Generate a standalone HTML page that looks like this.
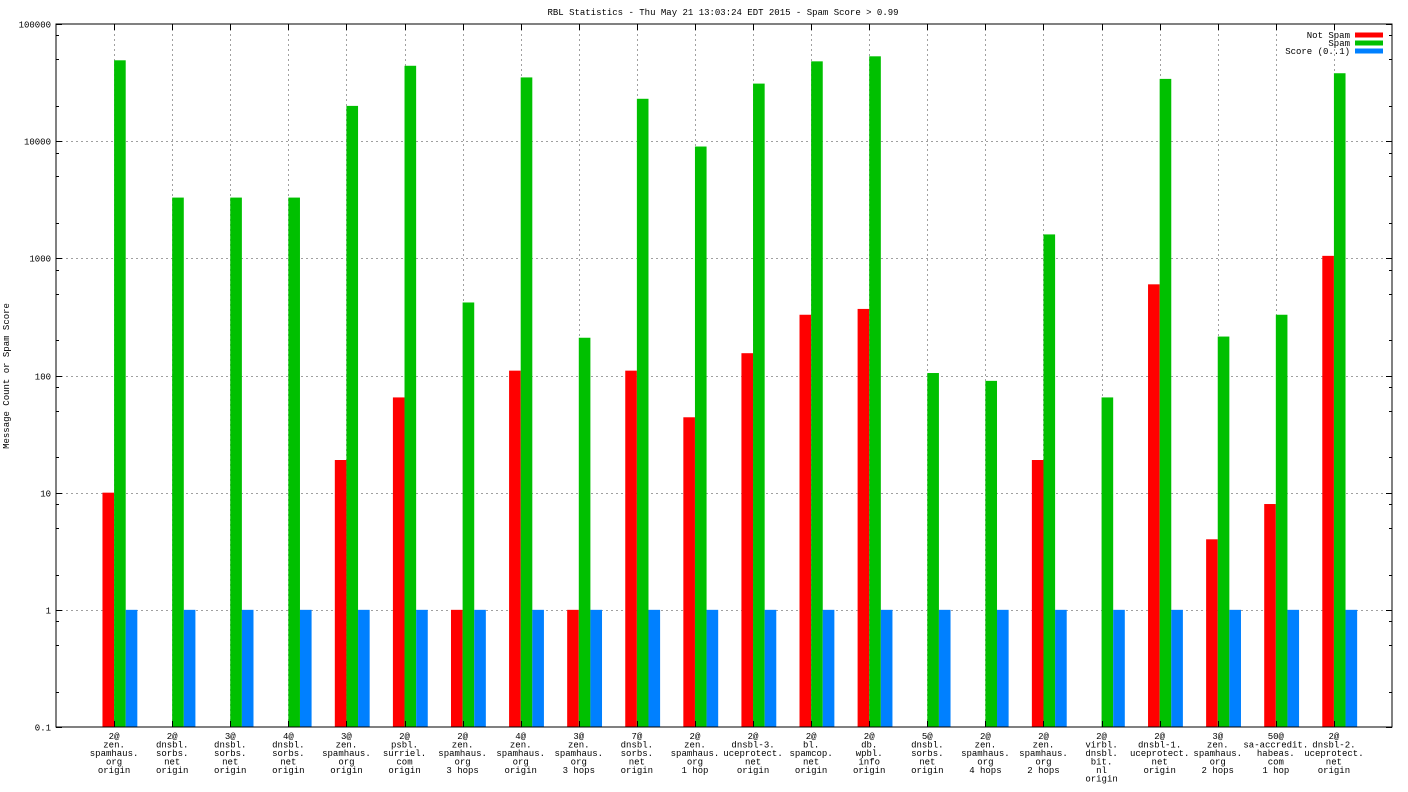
<!DOCTYPE html>
<html><head><meta charset="utf-8">
<style>
html,body{margin:0;padding:0;background:#fff;}
svg{display:block;}
text{font-family:"Liberation Mono","DejaVu Sans Mono",monospace;font-size:9px;fill:#000;}
</style></head>
<body>
<svg id="chart" width="1408" height="792" xmlns="http://www.w3.org/2000/svg">
<text x="723" y="15" text-anchor="middle">RBL Statistics - Thu May 21 13:03:24 EDT 2015 - Spam Score &gt; 0.99</text>
<text transform="translate(9,376) rotate(-90)" text-anchor="middle">Message Count or Spam Score</text>
<g id="grid"></g>
<g id="bars"></g>
<rect x="56" y="24" width="1336" height="703" fill="none" stroke="#000" stroke-width="1"/>
<g id="ticks"></g>
<g id="xlabels"></g>
<g id="legend"></g>
</svg>
<script>
const categories = [
 ["2@","zen.","spamhaus.","org","origin"],
 ["2@","dnsbl.","sorbs.","net","origin"],
 ["3@","dnsbl.","sorbs.","net","origin"],
 ["4@","dnsbl.","sorbs.","net","origin"],
 ["3@","zen.","spamhaus.","org","origin"],
 ["2@","psbl.","surriel.","com","origin"],
 ["2@","zen.","spamhaus.","org","3 hops"],
 ["4@","zen.","spamhaus.","org","origin"],
 ["3@","zen.","spamhaus.","org","3 hops"],
 ["7@","dnsbl.","sorbs.","net","origin"],
 ["2@","zen.","spamhaus.","org","1 hop"],
 ["2@","dnsbl-3.","uceprotect.","net","origin"],
 ["2@","bl.","spamcop.","net","origin"],
 ["2@","db.","wpbl.","info","origin"],
 ["5@","dnsbl.","sorbs.","net","origin"],
 ["2@","zen.","spamhaus.","org","4 hops"],
 ["2@","zen.","spamhaus.","org","2 hops"],
 ["2@","virbl.","dnsbl.","bit.","nl","origin"],
 ["2@","dnsbl-1.","uceprotect.","net","origin"],
 ["3@","zen.","spamhaus.","org","2 hops"],
 ["50@","sa-accredit.","habeas.","com","1 hop"],
 ["2@","dnsbl-2.","uceprotect.","net","origin"]
];
const notSpam = [10,0,0,0,19,65,1,110,1,110,44,155,330,370,0,0,19,0,600,4,8,1050];
const spam = [49000,3300,3300,3300,20000,44000,420,35000,210,23000,9000,31000,48000,53000,105,90,1600,65,34000,215,330,38000];
const score = [1,1,1,1,1,1,1,1,1,1,1,1,1,1,1,1,1,1,1,1,1,1];
const yTickLabels = ["0.1","1","10","100","1000","10000","100000"];
const yTickValues = [0.1,1,10,100,1000,10000,100000];

const NS="http://www.w3.org/2000/svg";
const L=56,R=1392,T=24,B=727;
const xMin=-1,xMax=22,yMinLog=-1,yMaxLog=5;
function xs(v){return L+(v-xMin)/(xMax-xMin)*(R-L);}
function ys(v){return B-(Math.log10(v)-yMinLog)/(yMaxLog-yMinLog)*(B-T);}
function mk(tag,attrs,parent){const e=document.createElementNS(NS,tag);for(const k in attrs)e.setAttribute(k,attrs[k]);parent.appendChild(e);return e;}
const grid=document.getElementById('grid'),bars=document.getElementById('bars'),ticks=document.getElementById('ticks'),xl=document.getElementById('xlabels'),lg=document.getElementById('legend');

yTickValues.forEach((v,i)=>{
  const y=Math.round(ys(v))+0.5;
  if(i>0&&i<yTickValues.length-1){
    const g=mk('line',{x1:L,x2:R,y1:y,y2:y,stroke:'#a0a0a0','stroke-dasharray':'2,3'},grid);
    
    
  }
  mk('line',{x1:L,x2:L+6,y1:y,y2:y,stroke:'#000'},ticks);
  mk('line',{x1:R-6,x2:R,y1:y,y2:y,stroke:'#000'},ticks);
  const t=mk('text',{x:L-5,y:y+3,'text-anchor':'end'},ticks);
  t.textContent=yTickLabels[i];
  
  
  if(i<yTickValues.length-1){
    [2,5,8].forEach(m=>{const yy=Math.round(ys(v*m))+0.5;
      mk('line',{x1:L,x2:L+3,y1:yy,y2:yy,stroke:'#000'},ticks);
      mk('line',{x1:R-3,x2:R,y1:yy,y2:yy,stroke:'#000'},ticks);});
  }
});

const bw=0.2;
categories.forEach((c,i)=>{
  const x=Math.round(xs(i))+0.5;
  const g=mk('line',{x1:x,x2:x,y1:T,y2:B,stroke:'#a0a0a0','stroke-dasharray':'2,3'},grid);
  
  
  mk('line',{x1:x,x2:x,y1:B-6,y2:B,stroke:'#000'},ticks);
  mk('line',{x1:x,x2:x,y1:T,y2:T+6,stroke:'#000'},ticks);
  const series=[[notSpam[i],'#ff0000','bar-not-spam',-bw],[spam[i],'#00c000','bar-spam',0],[score[i],'#0080ff','bar-score',bw]];
  series.forEach(([v,col,name,off])=>{
    if(!(v>0))return;
    const x0=xs(i+off),x1=xs(i+off+bw),y=Math.max(T,ys(v));
    const r=mk('rect',{x:x0,y:y,width:x1-x0,height:B-y,fill:col},bars);
    
    
  });
  const t=mk('text',{'text-anchor':'middle'},xl);
  
  
  c.forEach((line,j)=>{const s=mk('tspan',{x:xs(i),y:739+j*8.5},t);s.textContent=line;});
});

[["Not Spam","#ff0000"],["Spam","#00c000"],["Score (0..1)","#0080ff"]].forEach(([lab,col],j)=>{
  const y=35+j*8;
  const t=mk('text',{x:1350,y:y+3,'text-anchor':'end'},lg);
  t.textContent=lab;
  
  
  const r=mk('rect',{x:1355,y:y-2.5,width:28,height:5,fill:col},lg);
  
  
});
</script>
</body></html>
